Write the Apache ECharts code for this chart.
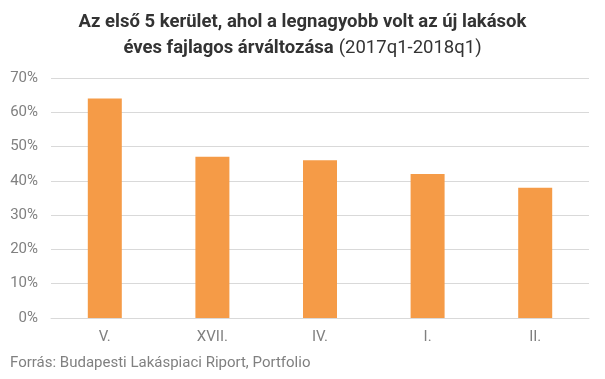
<!DOCTYPE html>
<html><head><meta charset="utf-8">
<script src="https://cdn.jsdelivr.net/npm/echarts@6/dist/echarts.min.js"></script>
<style>html,body{margin:0;padding:0;background:#fff}#c{width:605px;height:379px}</style>
</head><body><div id="c"></div>
<script>
const categories = ['V.', 'XVII.', 'IV.', 'I.', 'II.'];
const values = [64, 47, 46, 42, 38];
const yTicks = [0, 10, 20, 30, 40, 50, 60, 70];

const chart = echarts.init(document.getElementById('c'));
const bold = { fontFamily: 'Roboto', fontWeight: 'bold', fontSize: 18.5, color: '#333' };
chart.setOption({
  backgroundColor: '#fff',
  animation: false,
  title: [{
    text: 'Az első 5 kerület, ahol a legnagyobb volt az új lakások',
    left: 'center', top: 8,
    textStyle: bold
  }, {
    text: '{b|éves fajlagos árváltozása} {n|(2017q1-2018q1)}',
    left: 'center', top: 34,
    textStyle: {
      rich: {
        b: bold,
        n: { fontFamily: 'Roboto', fontWeight: 'normal', fontSize: 18.5, color: '#333' }
      }
    }
  }, {
    text: 'Forrás: Budapesti Lakáspiaci Riport, Portfolio',
    left: 5, top: 351,
    textStyle: { fontFamily: 'Roboto', fontWeight: 'normal', fontSize: 15, color: '#808080' }
  }],
  grid: { left: 51, right: 16, top: 78, bottom: 61 },
  xAxis: {
    type: 'category', data: categories,
    axisLine: { lineStyle: { color: '#d9d9d9' } },
    axisTick: { show: false },
    axisLabel: { color: '#808080', fontFamily: 'Roboto', fontSize: 15, margin: 12 }
  },
  yAxis: {
    type: 'value', min: 0, max: 70, interval: 10,
    axisLine: { show: false }, axisTick: { show: false },
    splitLine: { lineStyle: { color: '#d9d9d9' } },
    axisLabel: { color: '#808080', fontFamily: 'Roboto', fontSize: 15, margin: 13, formatter: v => yTicks.includes(v) ? v + '%' : '' }
  },
  series: [{
    type: 'bar', data: values, barWidth: 34,
    itemStyle: { color: '#F59B47' }
  }]
});
</script></body></html>
